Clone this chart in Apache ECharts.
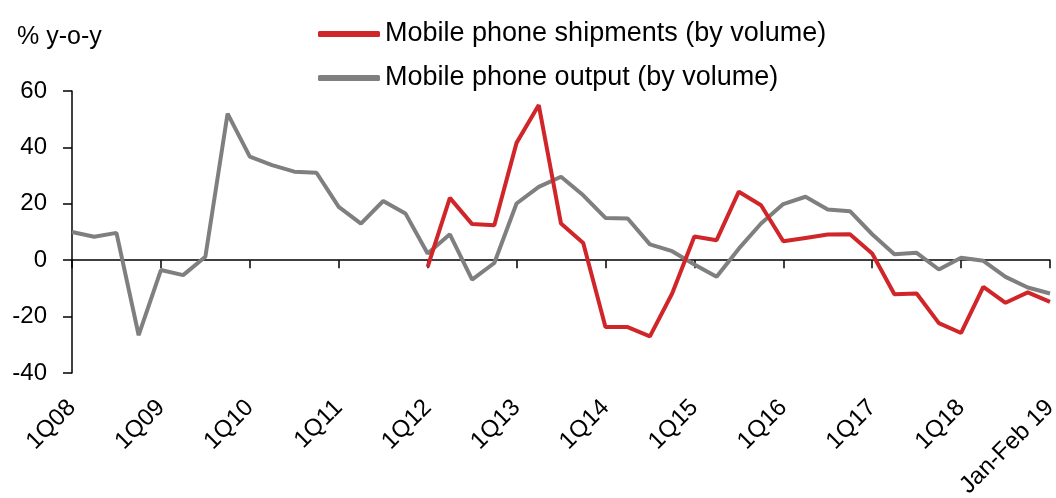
<!DOCTYPE html>
<html>
<head>
<meta charset="utf-8">
<script src="https://cdn.jsdelivr.net/npm/echarts@6/dist/echarts.min.js"></script>
<style>
  html, body { margin: 0; padding: 0; background: #fff; }
  #chart { width: 1056px; height: 498px; }
</style>
</head>
<body>
<div id="chart"></div>
<script>
// quarters 1Q08 .. 4Q18, then Jan-Feb 19
const categories = [];
for (let y = 8; y <= 18; y++) {
  for (let q = 1; q <= 4; q++) {
    categories.push(q + "Q" + (y < 10 ? "0" + y : y));
  }
}
categories.push("Jan-Feb 19");

// mobile phone shipments, starts at 1Q12
const shipments = [
  null, null, null, null, null, null, null, null,
  null, null, null, null, null, null, null, null,
  -2.4, 22.1, 12.8, 12.4, 41.6, 55, 13, 6.1,
  -23.7, -23.7, -27, -11.8, 8.4, 7.1, 24.3, 19.5,
  6.7, 7.9, 9.1, 9.2, 2.4, -12.1, -11.8, -22.3,
  -25.8, -9.5, -15.1, -11.4, -14.8
];

// mobile phone output
const output = [
  10, 8.3, 9.7, -26.6, -3.5, -5.3, 1.2, 52,
  36.7, 33.7, 31.4, 31, 18.9, 13, 21, 16.6,
  2.4, 9.2, -6.9, -1, 20.1, 26, 29.6, 23,
  15, 14.8, 5.6, 3.2, -1.5, -5.9, 4.1, 13,
  19.9, 22.5, 18, 17.4, 9.2, 2.1, 2.6, -3.3,
  0.9, -0.2, -5.9, -9.7, -11.8
];

const fontFamily = "'Liberation Sans', Arial, sans-serif";

const chart = echarts.init(document.getElementById("chart"));
chart.setOption({
  animation: false,
  textStyle: { fontFamily: fontFamily },
  title: {
    text: "% y-o-y",
    left: 12,
    top: 20,
    textStyle: { fontSize: 25, fontWeight: "normal", color: "#000", fontFamily: fontFamily }
  },
  legend: {
    orient: "vertical",
    left: 313,
    top: 14,
    itemWidth: 62,
    itemHeight: 6,
    itemGap: 14,
    icon: "roundRect",
    textStyle: { fontSize: 27, color: "#000", lineHeight: 30, fontFamily: fontFamily },
    data: ["Mobile phone shipments (by volume)", "Mobile phone output (by volume)"]
  },
  grid: {
    left: 72,
    right: 6,
    top: 91,
    bottom: 125,
    containLabel: false,
    outerBoundsMode: "none"
  },
  xAxis: [
    {
      // zero line with ticks
      type: "category",
      data: categories,
      boundaryGap: false,
      position: "bottom",
      axisLine: { show: true, onZero: true, lineStyle: { color: "#000", width: 1.5 } },
      axisTick: { show: true, interval: 3, length: 8, lineStyle: { color: "#000", width: 1.5 } },
      axisLabel: { show: false },
      splitLine: { show: false }
    },
    {
      // labels along the bottom
      type: "category",
      data: categories,
      boundaryGap: false,
      position: "bottom",
      axisLine: { show: false, onZero: false },
      axisTick: { show: false },
      axisLabel: {
        show: true,
        interval: 3,
        rotate: 45,
        margin: 31,
        fontSize: 24,
        color: "#000",
        fontFamily: fontFamily
      },
      splitLine: { show: false }
    }
  ],
  yAxis: {
    type: "value",
    min: -40,
    max: 60,
    interval: 20,
    axisLine: { show: true, lineStyle: { color: "#000", width: 1.5 } },
    axisTick: { show: true, length: 9, lineStyle: { color: "#000", width: 1.5 } },
    axisLabel: { fontSize: 24, color: "#000", margin: 25, fontFamily: fontFamily },
    splitLine: { show: false }
  },
  series: [
    {
      name: "Mobile phone shipments (by volume)",
      type: "line",
      data: shipments,
      symbol: "none",
      connectNulls: false,
      lineStyle: { color: "#d0262a", width: 4 },
      itemStyle: { color: "#d0262a" },
      z: 3
    },
    {
      name: "Mobile phone output (by volume)",
      type: "line",
      data: output,
      symbol: "none",
      lineStyle: { color: "#7f7f7f", width: 4 },
      itemStyle: { color: "#7f7f7f" },
      z: 2
    }
  ]
});
</script>
</body>
</html>
